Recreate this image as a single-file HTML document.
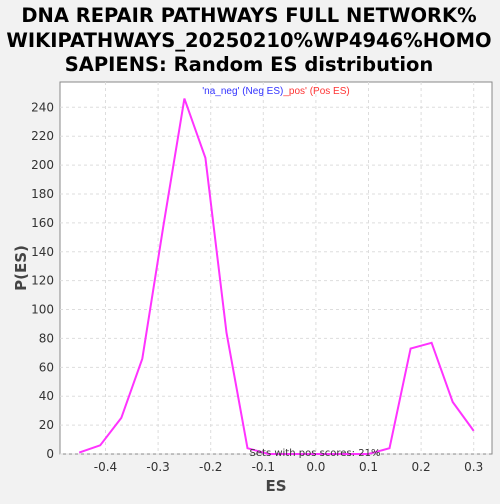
<!DOCTYPE html>
<html><head><meta charset="utf-8"><style>
body{margin:0;background:#f2f2f2;width:500px;height:500px;overflow:hidden;font-family:"DejaVu Sans",sans-serif}
</style></head><body>
<svg id="c" width="500" height="500" xmlns="http://www.w3.org/2000/svg" font-family="DejaVu Sans, sans-serif">
<rect width="500" height="500" fill="#f2f2f2"/>
<g font-weight="bold" font-size="19.5" fill="#000" text-anchor="middle">
<text x="249" y="22">DNA REPAIR PATHWAYS FULL NETWORK%</text>
<text x="249" y="47">WIKIPATHWAYS_20250210%WP4946%HOMO</text>
<text x="249" y="71">SAPIENS: Random ES distribution</text>
</g>
<rect x="60" y="82" width="432" height="372" fill="#fff" stroke="#888"/>
<g id="grid"></g><g id="ticks"></g>
<text x="276" y="94" font-size="10" text-anchor="middle" font-family="Liberation Sans, sans-serif"><tspan fill="#3333ff">'na_neg' (Neg ES)</tspan><tspan fill="#ff3333">_pos' (Pos ES)</tspan></text>
<path id="line" fill="none" stroke="#ff33ff" stroke-width="2"/>
<text x="315" y="456" font-size="10" fill="#333" text-anchor="middle">Sets with pos scores: 21%</text>
<text x="276" y="491" font-size="15" font-weight="bold" fill="#444" text-anchor="middle">ES</text>
<text transform="translate(26,268) rotate(-90)" font-size="15" font-weight="bold" fill="#444" text-anchor="middle">P(ES)</text>
</svg>
<script>
const esValues=[-0.45,-0.41,-0.37,-0.33,-0.29,-0.25,-0.21,-0.17,-0.13,-0.09,-0.05,-0.01,0.02,0.06,0.10,0.14,0.18,0.22,0.26,0.30];
const probValues=[1,6,25,66,158,246,205,84,4,0,0,0,0,0,0,4,73,77,36,16];
const xTicks=[-0.4,-0.3,-0.2,-0.1,0.0,0.1,0.2,0.3];
const yTicks=[0,20,40,60,80,100,120,140,160,180,200,220,240];
function xs(v){return 315.9+v*526;}
function ys(v){return 454-v*1.4446;}
const NS="http://www.w3.org/2000/svg";
const grid=document.getElementById('grid'),ticks=document.getElementById('ticks');
function mk(tag,attrs,parent){const e=document.createElementNS(NS,tag);for(const k in attrs)e.setAttribute(k,attrs[k]);parent.appendChild(e);return e;}
xTicks.forEach(t=>{const x=xs(t);
 const g=mk('line',{x1:x,x2:x,y1:82,y2:454,stroke:'#ddd','stroke-dasharray':'3,3'},grid);
 
 
 const l=mk('text',{x:x,y:471,'font-size':12,fill:'#333','text-anchor':'middle'},ticks);
 l.textContent=t.toFixed(1);
 
 
});
yTicks.forEach(t=>{const y=ys(t);
 const g=mk('line',{x1:60,x2:492,y1:y,y2:y,stroke:'#ddd','stroke-dasharray':'3,3'},grid);
 
 
 const l=mk('text',{x:54,y:y+4,'font-size':12,fill:'#333','text-anchor':'end'},ticks);
 l.textContent=t;
 
 
});
document.getElementById('line').setAttribute('d',esValues.map((v,i)=>(i?'L':'M')+xs(v).toFixed(1)+','+ys(probValues[i]).toFixed(1)).join(''));
</script>
</body></html>
